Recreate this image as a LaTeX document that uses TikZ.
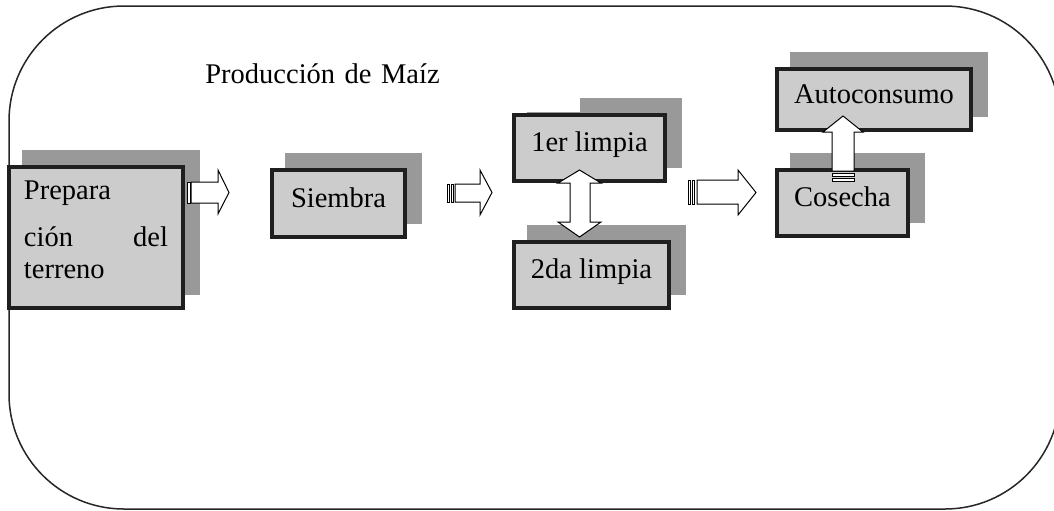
\documentclass[tikz,border=0pt]{standalone}
\usepackage{fontspec}
\setmainfont{Liberation Serif}
\usetikzlibrary{shadows}
\definecolor{cajagris}{gray}{0.8}
\definecolor{sombragris}{gray}{0.6}
\definecolor{bordegris}{gray}{0.12}
\tikzset{
  caja/.style={draw=bordegris, line width=2pt, fill=cajagris, inner sep=0pt,
    text height=8pt, text depth=4.5pt,
    drop shadow={shadow xshift=7.5pt, shadow yshift=7.5pt, opacity=1,
      fill=sombragris, draw=sombragris}},
  flecha/.style={draw=black, line width=0.5pt, fill=white},
  marco/.style={draw=black!85, line width=0.75pt, rounded corners=57.5pt}
}
\begin{document}
\begin{tikzpicture}[x=0.5pt, y=-0.5pt, font=\fontsize{14.25}{16}\selectfont]
\useasboundingbox (0,0) rectangle (1054,510);
\clip (0,0) rectangle (1054,510);
\draw[marco] (9,6) rectangle (1060,509);
% cajas
\node[caja, minimum width=87pt, minimum height=70.5pt, text width=72pt, align=left,
  text height=, text depth=47pt] (prep) at (96,237.5)
  {Prepara\\[7.5pt]\makebox[\linewidth][l]{ción\hfill del}\\terreno};
\node[caja, minimum width=66.5pt, minimum height=33.5pt] (siembra) at (338.5,203.5) {Siembra};
\node[caja, minimum width=75.5pt, minimum height=33pt] (limpia1) at (589.5,148) {1er limpia};
\node[caja, minimum width=77.5pt, minimum height=33pt] (limpia2) at (591.5,275) {2da limpia};
\node[caja, minimum width=97pt, minimum height=30.5pt] (auto) at (874,99.5) {Autoconsumo};
\node[caja, minimum width=65.5pt, minimum height=33pt] (cosecha) at (842.5,203) {Cosecha};
\node[fill=white, anchor=base west, inner xsep=0pt, inner ysep=14.5pt, text depth=0pt,
  text width=187.5pt, align=left] (titulo) at (205,83) {Producción de Maíz};
% flechas
\draw[flecha] (187,182) rectangle (190,203);
\draw[flecha] (191,182) -- (218,182) -- (218,170) -- (229,192.5) -- (218,214) -- (218,203) -- (191,203) -- cycle;
\draw[flecha] (447,184) rectangle (449,202);
\draw[flecha] (451,184) rectangle (453,202);
\draw[flecha] (455,184) -- (480,184) -- (480,170) -- (492,192.5) -- (480,215) -- (480,202) -- (455,202) -- cycle;
\draw[flecha] (688,180) rectangle (690.5,204);
\draw[flecha] (692,180) rectangle (694.5,204);
\draw[flecha] (697,180) -- (738,180) -- (738,170) -- (756,192.5) -- (738,215) -- (738,204) -- (697,204) -- cycle;
\draw[flecha] (579.5,170) -- (601,183) -- (590,183) -- (590,222) -- (601,222) -- (579.5,237)
  -- (558,222) -- (570,222) -- (570,183) -- (558,183) -- cycle;
\draw[flecha] (832,173) rectangle (854,176);
\draw[flecha] (832,178) rectangle (854,181);
\draw[flecha] (832,171) -- (832,132) -- (823,132) -- (843,116) -- (863,132) -- (854,132) -- (854,171) -- cycle;
\end{tikzpicture}
\end{document}
